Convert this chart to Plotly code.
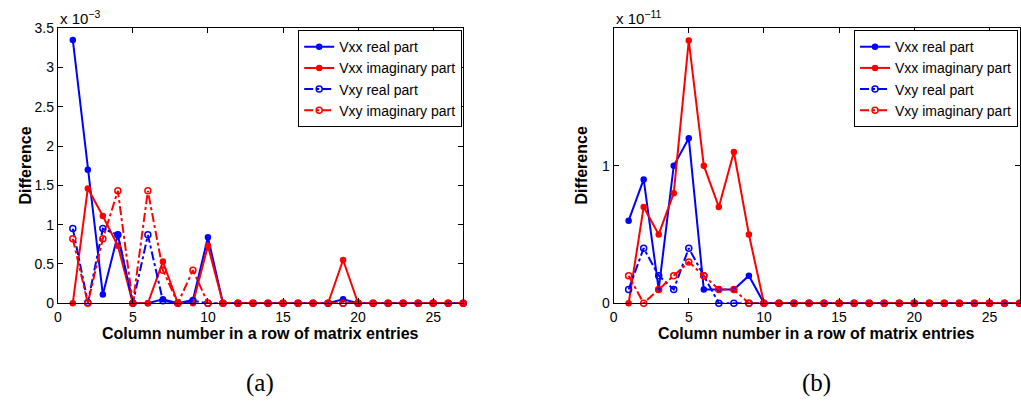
import plotly.graph_objects as go
from plotly.subplots import make_subplots

cols = list(range(1, 28))

# Panel (a), values in units of 1e-3
a_vxx_re = [3.35, 1.70, 0.11, 0.87, 0, 0, 0.05, 0, 0.04, 0.84, 0, 0, 0, 0, 0, 0, 0, 0, 0.05, 0, 0, 0, 0, 0, 0, 0, 0]
a_vxx_im = [0, 1.46, 1.11, 0.73, 0, 0, 0.53, 0, 0, 0.73, 0, 0, 0, 0, 0, 0, 0, 0, 0.55, 0, 0, 0, 0, 0, 0, 0, 0]
a_vxy_re = [0.95, 0.01, 0.95, 0.87, 0, 0.87, 0.03, 0, 0.03, 0, 0, 0, 0, 0, 0, 0, 0, 0, 0, 0, 0, 0, 0, 0, 0, 0, 0]
a_vxy_im = [0.82, 0, 0.82, 1.43, 0, 1.43, 0.42, 0, 0.42, 0, 0, 0, 0, 0, 0, 0, 0, 0, 0, 0, 0, 0, 0, 0, 0, 0, 0]

# Panel (b), values in units of 1e-11
b_vxx_re = [0.60, 0.90, 0.10, 1.00, 1.20, 0.10, 0.10, 0.10, 0.20, 0, 0, 0, 0, 0, 0, 0, 0, 0, 0, 0, 0, 0, 0, 0, 0, 0, 0]
b_vxx_im = [0, 0.70, 0.50, 0.80, 1.91, 1.00, 0.70, 1.10, 0.50, 0, 0, 0, 0, 0, 0, 0, 0, 0, 0, 0, 0, 0, 0, 0, 0, 0, 0]
b_vxy_re = [0.10, 0.40, 0.20, 0.10, 0.40, 0.20, 0, 0, 0, 0, 0, 0, 0, 0, 0, 0, 0, 0, 0, 0, 0, 0, 0, 0, 0, 0, 0]
b_vxy_im = [0.20, 0, 0.10, 0.20, 0.30, 0.20, 0.10, 0.10, 0, 0, 0, 0, 0, 0, 0, 0, 0, 0, 0, 0, 0, 0, 0, 0, 0, 0, 0]

names = ["Vxx real part", "Vxx imaginary part", "Vxy real part", "Vxy imaginary part"]
colors = ["#0000FF", "#FF0000", "#0000FF", "#FF0000"]
dashes = ["solid", "solid", "dashdot", "dashdot"]
symbols = ["circle", "circle", "circle-open", "circle-open"]
msizes = [5, 5, 6, 6]

fig = make_subplots(rows=1, cols=2)

for col, series, leg in [(1, [a_vxx_re, a_vxx_im, a_vxy_re, a_vxy_im], "legend"),
                         (2, [b_vxx_re, b_vxx_im, b_vxy_re, b_vxy_im], "legend2")]:
    for i, ys in enumerate(series):
        fig.add_trace(go.Scatter(
            x=cols, y=ys, name=names[i], mode="lines+markers",
            line=dict(color=colors[i], width=2, dash=dashes[i]),
            marker=dict(symbol=symbols[i], size=msizes[i], color=colors[i],
                        line=dict(color=colors[i], width=1.5)),
            cliponaxis=False, legend=leg, showlegend=True), row=1, col=col)

W, H = 1021, 417
top, bot = 21, 307
ydom = [1 - bot / H, 1 - top / H]
xdom1 = [54 / W, 461 / W]
xdom2 = [612 / W, 1019.5 / W]

axis_common = dict(showline=True, linecolor="black", linewidth=1, mirror="ticks",
                   ticks="inside", ticklen=5, tickcolor="black", showgrid=False,
                   zeroline=False, tickfont=dict(family="Liberation Sans, Arial", size=14, color="black"))

fig.update_xaxes(range=[0, 27], dtick=5, tick0=0, ticklabelstandoff=1, **axis_common)
fig.update_yaxes(**axis_common)
fig.update_layout(
    xaxis=dict(domain=xdom1), xaxis2=dict(domain=xdom2),
    yaxis=dict(domain=ydom, range=[0, 3.5], dtick=0.5, tick0=0),
    yaxis2=dict(domain=ydom, range=[0, 2.0], tickvals=[0, 1], ticktext=["0", "1"]),
)

legend_common = dict(bgcolor="white", bordercolor="black", borderwidth=1,
                     font=dict(family="Liberation Sans, Arial", size=14, color="black"),
                     xanchor="right", yanchor="top", tracegroupgap=0, itemwidth=30)
fig.update_layout(
    legend=dict(x=460 / W, y=1 - 23 / H, **legend_common),
    legend2=dict(x=1018 / W, y=1 - 23 / H, **legend_common),
)

ann = []
lab_font = dict(family="Liberation Sans, Arial", size=16, color="black")
for xd, exp, lbl in [(xdom1, "−3", "(a)"), (xdom2, "−11", "(b)")]:
    cx = (xd[0] + xd[1]) / 2
    ann.append(dict(x=cx, y=1 - 338 / H, xref="paper", yref="paper", showarrow=False,
                    text="<b>Column number in a row of matrix entries</b>", font=lab_font,
                    xanchor="center", yanchor="middle"))
    ann.append(dict(x=xd[0] - 32 / W, y=(ydom[0] + ydom[1]) / 2, xref="paper", yref="paper",
                    showarrow=False, text="<b>Difference</b>", font=lab_font, textangle=-90,
                    xanchor="center", yanchor="middle"))
    ann.append(dict(x=xd[0], y=1 - 10 / H, xref="paper", yref="paper", showarrow=False,
                    text="x 10<sup>" + exp + "</sup>",
                    font=dict(family="Liberation Sans, Arial", size=15, color="black"),
                    xanchor="left", yanchor="middle"))
    ann.append(dict(x=cx, y=1 - 390 / H, xref="paper", yref="paper", showarrow=False,
                    text=lbl, font=dict(family="Liberation Serif, DejaVu Serif", size=25, color="black"),
                    xanchor="center", yanchor="middle"))

fig.update_layout(width=W, height=H, margin=dict(l=0, r=0, t=0, b=0),
                  paper_bgcolor="white", plot_bgcolor="white", annotations=ann)

fig.write_html("out.html", config={"displayModeBar": False},
               post_script="document.body.style.margin='0';document.body.style.overflow='hidden';")
